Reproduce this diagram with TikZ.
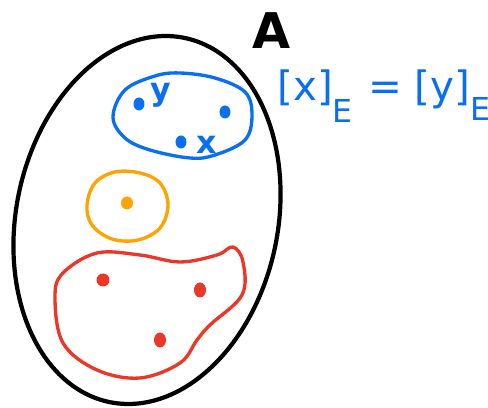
\documentclass[tikz,border=0pt]{standalone}
\usepackage{fontspec}
\setmainfont{DejaVu Sans}
\definecolor{setblack}{RGB}{0,0,0}
\definecolor{setblue}{RGB}{10,110,245}
\definecolor{setorange}{RGB}{255,163,0}
\definecolor{setred}{RGB}{235,55,40}
\usetikzlibrary{positioning}

\begin{document}
\begin{tikzpicture}[
  x=0.02cm,y=-0.02cm,
  setoutline/.style={line width=1.9pt,line cap=round,line join=round},
  handlabel/.style={inner sep=0pt,font=\bfseries\fontsize{18}{20}\selectfont}
]
  \useasboundingbox (0,0) rectangle (488,408);
  \draw[setoutline,line width=2.4pt,color=setblack] plot[domain=0:360,samples=120,smooth cycle,variable=\t]
    ({147+128.2*cos(\t)+37.5*sin(\t)},{220+26.4*cos(\t)-182.1*sin(\t)});
  \node[inner sep=0pt,font=\bfseries\fontsize{28}{30}\selectfont] (setA) at (272,31) {A};

  \draw[setoutline,color=setblue] plot[smooth cycle,tension=0.6] coordinates {
    (113,117) (125,90) (155,76) (180,73) (215,78) (245,92) (252,115) (245,140)
    (215,155) (190,158) (150,150) (125,138)};
  \fill[color=setblue] (139,104) ellipse[x radius=5.5,y radius=6.5];
  \fill[color=setblue] (225,112) ellipse[x radius=5.5,y radius=6.5];
  \fill[color=setblue] (181,142) ellipse[x radius=5.5,y radius=6.5];
  \node[handlabel,text=setblue] (ylabel) at (161,95) {y};
  \node[handlabel,text=setblue] (xlabel) at (207,145) {x};

  \draw[setoutline,color=setorange] plot[smooth cycle,tension=0.6] coordinates {
    (87,205) (95,183) (115,172) (140,173) (160,183) (168,205) (160,228) (138,240)
    (112,239) (92,225)};
  \fill[color=setorange] (127,203) ellipse[x radius=6,y radius=6.5];

  \draw[setoutline,color=setred] plot[smooth cycle,tension=0.6] coordinates {
    (55,297) (63,273) (97,253) (140,255) (180,262) (217,255) (233,247) (243,262)
    (242,295) (210,325) (197,340) (180,363) (140,378) (97,370) (63,343)};
  \fill[color=setred] (103,280) ellipse[x radius=6.5,y radius=6.5];
  \fill[color=setred] (200,290) ellipse[x radius=6,y radius=7.5];
  \fill[color=setred] (160,340) ellipse[x radius=6,y radius=7.5];

  \node[inner sep=0pt,anchor=west,text=setblue,font=\fontsize{23}{28}\selectfont] (classeq) at (277,96)
    {[x]\raisebox{-0.55em}{\fontsize{18}{20}\selectfont E}\hspace{0.4em}=\hspace{0.3em}[y]\raisebox{-0.5em}{\fontsize{18}{20}\selectfont E}};
\end{tikzpicture}
\end{document}
